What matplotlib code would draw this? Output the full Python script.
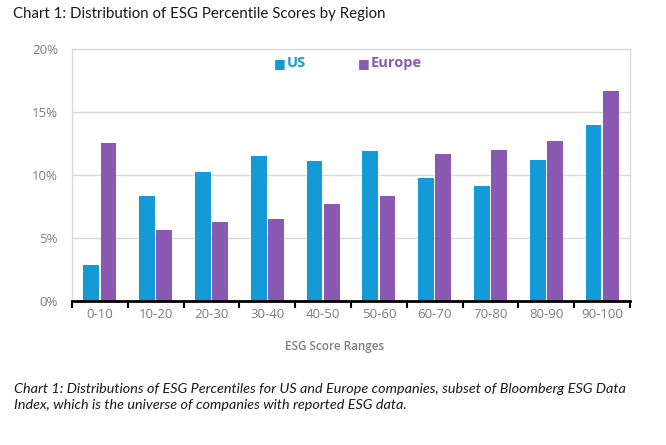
import numpy as np
import matplotlib.pyplot as plt
from matplotlib.ticker import FuncFormatter, FixedLocator

# Data (% of companies)
ranges = ["0-10", "10-20", "20-30", "30-40", "40-50",
          "50-60", "60-70", "70-80", "80-90", "90-100"]
us = [2.83, 8.29, 10.2, 11.46, 11.07, 11.86, 9.72, 9.09, 11.15, 13.92]
europe = [12.52, 5.6, 6.26, 6.52, 7.66, 8.3, 11.62, 11.94, 12.63, 16.62]

US_COLOR = "#149bd7"
EU_COLOR = "#8a5ab2"
GRAY = "#7f7f7f"

plt.rcParams["font.family"] = ["Open Sans", "DejaVu Sans"]

fig = plt.figure(figsize=(6.66, 4.45), dpi=100)
ax = fig.add_axes([0.108, 0.324, 0.838, 0.567])

x = np.arange(len(ranges))
w = 0.285
ax.bar(x - w / 2 - 0.012, us, width=w, color=US_COLOR, label="US", zorder=3)
ax.bar(x + w / 2 + 0.012, europe, width=w, color=EU_COLOR, label="Europe", zorder=3)

ax.set_xlim(-0.5, len(ranges) - 0.5)
ax.set_ylim(0, 20)
ax.set_yticks([0, 5, 10, 15, 20])
ax.yaxis.set_major_formatter(FuncFormatter(lambda v, p: f"{v:.0f}%"))
ax.grid(axis="y", color="#d9d9d9", linewidth=1, zorder=0)

ax.set_xticks(x)
ax.set_xticklabels(ranges)
ax.tick_params(axis="x", which="major", length=0, pad=5, labelsize=9.5, labelcolor=GRAY)
ax.xaxis.set_minor_locator(FixedLocator(np.arange(-0.5, len(ranges), 1.0)))
ax.tick_params(axis="x", which="minor", length=5, width=1.5, color="black", direction="out")
ax.tick_params(axis="y", length=0, pad=10, labelsize=9.5, labelcolor=GRAY)

for side in ["left", "right", "top"]:
    ax.spines[side].set_color("#d9d9d9")
    ax.spines[side].set_linewidth(1)
ax.spines["bottom"].set_color("black")
ax.spines["bottom"].set_linewidth(2)
ax.spines["bottom"].set_zorder(4)

ax.set_xlabel("ESG Score Ranges", fontsize=8.4, color=GRAY, fontweight="semibold")
ax.xaxis.set_label_coords(0.471, -0.155)

# legend drawn as colored squares with colored bold text
fig.text(0.411, 0.858, "■", color=US_COLOR, fontsize=9, va="center", ha="left", family=["DejaVu Sans"])
fig.text(0.431, 0.858, "US", color=US_COLOR, fontsize=10.5, fontweight="bold", va="center", ha="left")
fig.text(0.537, 0.858, "■", color=EU_COLOR, fontsize=9, va="center", ha="left", family=["DejaVu Sans"])
fig.text(0.557, 0.858, "Europe", color=EU_COLOR, fontsize=10.5, fontweight="bold", va="center", ha="left")

fig.text(0.019, 0.968, "Chart 1: Distribution of ESG Percentile Scores by Region",
         fontsize=10.8, color="#1a1a1a", family=["Lato", "DejaVu Sans"], va="center", ha="left")

fig.text(0.021, 0.108,
         "Chart 1: Distributions of ESG Percentiles for US and Europe companies, subset of Bloomberg ESG Data\n"
         "Index, which is the universe of companies with reported ESG data.",
         fontsize=10.4, style="italic", color="#1a1a1a", family=["Lato", "DejaVu Sans"],
         va="center", ha="left", linespacing=1.45)

fig.savefig("out.png", dpi=100)
